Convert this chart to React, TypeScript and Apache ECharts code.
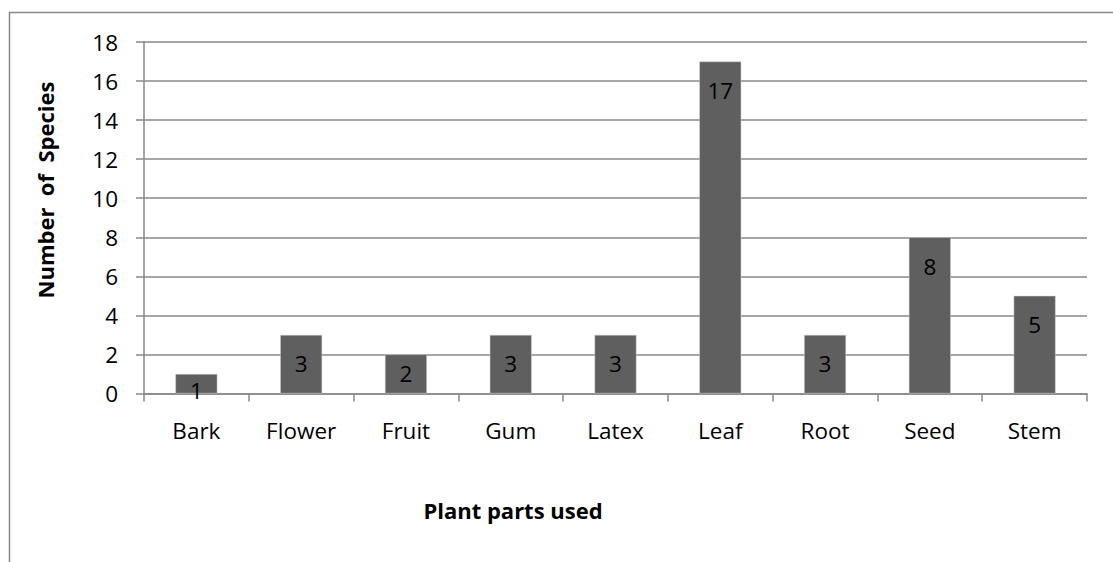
import React, { useEffect, useRef } from "react";
import * as echarts from "echarts";

const categories = ["Bark", "Flower", "Fruit", "Gum", "Latex", "Leaf", "Root", "Seed", "Stem"];
const speciesCounts = [1, 3, 2, 3, 3, 17, 3, 8, 5];
const yTicks = { min: 0, max: 18, interval: 2 };
const xTitle = "Plant parts used";
const yTitle = "Number  of  Species";

const FONT = "'Open Sans', 'Noto Sans', sans-serif";

export default function App() {
  const ref = useRef<HTMLDivElement>(null);
  useEffect(() => {
    if (!ref.current) return;
    const chart = echarts.init(ref.current, undefined, { renderer: "svg" });
    const data = speciesCounts.map((v) => {
      if (v <= 1) {
        return { value: v, label: { position: "insideBottom", distance: -8 } };
      }
      if (v <= 2) {
        return { value: v, label: { position: "inside" } };
      }
      return v;
    });
    chart.setOption({
      animation: false,
      backgroundColor: "#ffffff",
      textStyle: { fontFamily: FONT },
      grid: { left: 144, right: 26, top: 42, bottom: 168.5, containLabel: false },
      xAxis: {
        type: "category",
        data: categories,
        boundaryGap: true,
        axisLine: { show: true, lineStyle: { color: "#888888", width: 1.5 } },
        axisTick: { show: true, length: 8, inside: false, lineStyle: { color: "#888888", width: 1.5 } },
        axisLabel: { color: "#000000", fontSize: 22.5, fontFamily: FONT, margin: 25 },
        splitLine: { show: false },
      },
      yAxis: {
        type: "value",
        min: yTicks.min,
        max: yTicks.max,
        interval: yTicks.interval,
        axisLine: { show: true, lineStyle: { color: "#888888", width: 1.5 } },
        axisTick: { show: true, length: 8, lineStyle: { color: "#888888", width: 1.5 } },
        axisLabel: { color: "#000000", fontSize: 22.5, fontFamily: FONT, margin: 26 },
        splitLine: { show: true, lineStyle: { color: "#888888", width: 1.5 } },
      },
      series: [
        {
          type: "bar",
          data,
          barWidth: "40%",
          itemStyle: { color: "#5f5f5f", borderColor: "#d0d0d0", borderWidth: 0.5 },
          label: {
            show: true,
            position: "insideTop",
            distance: 17.5,
            color: "#000000",
            fontSize: 22.5,
            fontFamily: FONT,
          },
        },
      ],
      graphic: [
        {
          type: "rect",
          shape: { x: 9.5, y: 12.5, width: 1200, height: 700 },
          style: { fill: "none", stroke: "#888888", lineWidth: 1.5 },
          silent: true,
        },
        {
          type: "text",
          x: 45,
          y: 190,
          rotation: Math.PI / 2,
          style: {
            text: yTitle,
            fontFamily: FONT,
            fontWeight: "bold",
            fontSize: 22,
            fill: "#000000",
            align: "center",
            verticalAlign: "middle",
          },
        },
        {
          type: "text",
          x: 513,
          y: 510,
          style: {
            text: xTitle,
            fontFamily: FONT,
            fontWeight: "bold",
            fontSize: 22,
            fill: "#000000",
            align: "center",
            verticalAlign: "middle",
          },
        },
      ],
    });
    return () => chart.dispose();
  }, []);
  return (
    <div
      ref={ref}
      style={{ position: "fixed", left: 0, top: 0, width: 1113, height: 562, background: "#fff" }}
    />
  );
}
